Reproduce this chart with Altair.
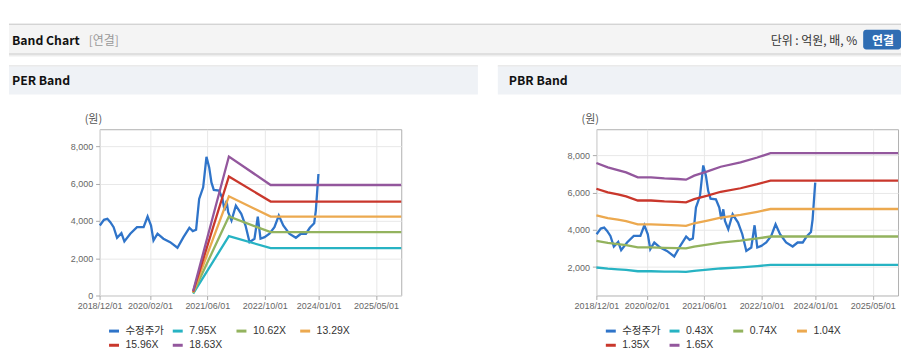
import altair as alt
import pandas as pd

# ---------------- data ----------------
price_dates = ["2018-12-03", "2019-01-07", "2019-02-05", "2019-03-02", "2019-03-30",
               "2019-04-28", "2019-06-04", "2019-06-29", "2019-08-18", "2019-10-14",
               "2019-12-09", "2020-01-12", "2020-02-10", "2020-03-02", "2020-04-05",
               "2020-05-25", "2020-07-21", "2020-09-21", "2020-11-11", "2020-12-31",
               "2021-01-29", "2021-02-26", "2021-03-24", "2021-04-27", "2021-05-25",
               "2021-06-17", "2021-07-06", "2021-07-26", "2021-09-09", "2021-10-08",
               "2021-10-25", "2021-11-11", "2021-11-25", "2021-12-23", "2022-01-29",
               "2022-03-16", "2022-04-21", "2022-05-25", "2022-07-06", "2022-08-03",
               "2022-08-26", "2022-09-29", "2022-11-10", "2022-12-22", "2023-01-28",
               "2023-03-07", "2023-04-27", "2023-06-22", "2023-08-03", "2023-09-15",
               "2023-10-18", "2023-11-24", "2023-12-08", "2023-12-16", "2023-12-30"]
price_vals = [3760, 4064, 4117, 3936, 3668, 3100, 3348, 2904, 3316, 3668,
              3668, 4240, 3760, 2957, 3316, 3048, 2866, 2567, 3134, 3636,
              3455, 3530, 5187, 5807, 7449, 6877, 6075, 5668, 5631, 5187,
              4561, 5096, 4471, 4027, 4829, 4385, 3760, 2866, 3048, 4240,
              3048, 3134, 3316, 3668, 4294, 3760, 3316, 3101, 3316, 3316,
              3636, 3882, 4561, 5273, 6524]

price_name = "수정주가"

per_labels = ["7.95X", "10.62X", "13.29X", "15.96X", "18.63X"]
per_band_dates = ["2021-02-01", "2021-12-01", "2022-11-20", "2025-12-01"]
per_795 = [100, 3187, 2545, 2545]
per_1062 = [135, 4241, 3401, 3401]
per_1329 = [170, 5326, 4241, 4241]
per_1596 = [205, 6396, 5043, 5043]
per_1863 = [240, 7465, 5935, 5935]

pbr_labels = ["0.43X", "0.74X", "1.04X", "1.35X", "1.65X"]
pbr_band_dates = ["2018-12-01", "2019-03-08", "2019-06-01", "2019-08-10", "2019-11-17",
                  "2020-03-08", "2020-06-30", "2020-10-20", "2020-12-30", "2021-03-09",
                  "2021-06-30", "2021-10-20", "2022-04-06", "2022-08-26", "2022-12-16",
                  "2025-12-01"]
pbr_043 = [1975, 1913, 1877, 1843, 1774, 1774, 1760, 1752, 1742, 1798, 1858, 1923, 1983, 2052, 2113, 2113]
pbr_074 = [3398, 3292, 3230, 3172, 3053, 3053, 3029, 3015, 2998, 3094, 3197, 3309, 3412, 3532, 3637, 3637]
pbr_104 = [4776, 4627, 4540, 4458, 4290, 4290, 4257, 4237, 4213, 4348, 4493, 4651, 4795, 4964, 5112, 5112]
pbr_135 = [6199, 6006, 5893, 5787, 5569, 5569, 5526, 5500, 5469, 5644, 5832, 6037, 6225, 6444, 6635, 6635]
pbr_165 = [7577, 7341, 7202, 7074, 6806, 6806, 6753, 6722, 6684, 6899, 7128, 7379, 7608, 7875, 8110, 8110]

x_tick_dates = ["2018-12-01", "2020-02-01", "2021-06-01", "2022-10-01", "2024-01-01", "2025-05-01"]
x_domain_dates = ["2018-12-01", "2025-12-01"]
per_y_ticks = [0, 2000, 4000, 6000, 8000]
pbr_y_ticks = [2000, 4000, 6000, 8000]
per_y_domain = [0, 8930]
pbr_y_domain = [475, 9390]

series_colors = ["#2f74c9", "#27b3c3", "#93b35e", "#eca94f", "#c9372c", "#93579d"]

# ---------------- build tables ----------------
def ms(d):
    return int(pd.Timestamp(d, tz="UTC").value // 10**6)


def long_table(band_dates, band_lists, labels):
    rows = []
    for d, v in zip(price_dates, price_vals):
        rows.append({"date": d, "value": v, "series": price_name})
    for lab, vals in zip(labels, band_lists):
        for d, v in zip(band_dates, vals):
            rows.append({"date": d, "value": v, "series": lab})
    return pd.DataFrame(rows)


per_df = long_table(per_band_dates, [per_795, per_1062, per_1329, per_1596, per_1863], per_labels)
pbr_df = long_table(pbr_band_dates, [pbr_043, pbr_074, pbr_104, pbr_135, pbr_165], pbr_labels)

KFONT = "Noto Sans CJK KR"
LFONT = "Liberation Sans, Noto Sans CJK KR"
one = pd.DataFrame({"k": [0]})


def rect(x, x2, y, y2, color, r=0):
    return alt.Chart(one).mark_rect(color=color, cornerRadius=r).encode(
        x=alt.value(x), x2=alt.value(x2), y=alt.value(y), y2=alt.value(y2))


def label(txt, x, y, size, color, weight="normal", align="left", font=KFONT):
    return alt.Chart(one).mark_text(
        text=txt, align=align, baseline="alphabetic", fontSize=size,
        fontWeight=weight, color=color, font=font).encode(x=alt.value(x), y=alt.value(y))


W, H = 303, 167


def band_chart(df, labels, y_domain, y_ticks):
    domain = [price_name] + labels
    x = alt.X("date:T", title=None,
              scale=alt.Scale(type="utc", domain=[ms(d) for d in x_domain_dates], nice=False),
              axis=alt.Axis(values=[ms(d) for d in x_tick_dates], format="%Y/%m/%d",
                            labelFlush=False, labelOverlap=False, labelFontSize=9,
                            labelFont=LFONT, labelColor="#666", tickSize=4,
                            tickColor="#aaa", labelPadding=2, grid=True,
                            gridColor="#e8e8e8", domain=False))
    y = alt.Y("value:Q", title=None,
              scale=alt.Scale(domain=y_domain, nice=False, zero=False),
              axis=alt.Axis(values=y_ticks, format=",d", labelFontSize=9,
                            labelFont=LFONT, labelColor="#666", tickSize=4,
                            tickColor="#aaa", labelPadding=3, grid=True,
                            gridColor="#e8e8e8", domain=False))
    color = alt.Color("series:N", scale=alt.Scale(domain=domain, range=series_colors),
                      legend=alt.Legend(orient="none", legendX=8, legendY=196,
                                        direction="horizontal", columns=4, gridAlign="all",
                                        symbolType="stroke", symbolSize=100,
                                        symbolStrokeWidth=3, labelFontSize=10.5,
                                        labelFont=LFONT, labelColor="#333",
                                        columnPadding=2, rowPadding=1.5, labelOffset=5,
                                        title=None))
    return alt.Chart(df).mark_line(strokeWidth=2.3, interpolate="linear").encode(
        x=x, y=y, color=color, detail="series:N",
        order=alt.Order("date:T"))


# PER panel (origin of its plot area = page (99,128))
per_layers = [
    rect(-91, 805, -106, -105, "#b9b9b9"),
    rect(-91, 805, -105, -76, "#f4f4f4"),
    rect(-91, 805, -76, -75, "#c6c6c6"),
    rect(-91, 805, -75, -74, "#dcdcdc"),
    rect(-91, 805, -74, -73, "#ededed"),
    rect(-91, 380, -64, -63, "#d6d6d6"),
    rect(-91, 380, -63, -35, "#eff2f6"),
    label("Band Chart", -88, -85, 12.3, "#111", "bold"),
    label("[연결]", -11, -85, 12, "#999"),
    label("단위 : 억원, 배, %", 761, -85, 12, "#333", align="right"),
    rect(767, 805, -100, -80, "#2f6db3", r=3),
    label("연결", 787, -85, 12, "#ffffff", "bold", align="center"),
    label("PER Band", -88, -44, 12.3, "#111", "bold"),
    label("(원)", -15, -6, 11, "#555"),
    band_chart(per_df, per_labels, per_y_domain, per_y_ticks),
]
per_chart = alt.layer(*per_layers).properties(width=W, height=H)

# PBR panel (origin of its plot area = page (598,128))
pbr_layers = [
    rect(-99, 306, -64, -63, "#d6d6d6"),
    rect(-99, 306, -63, -35, "#eff2f6"),
    label("PBR Band", -88, -44, 12.3, "#111", "bold"),
    label("(원)", -15, -6, 11, "#555"),
    band_chart(pbr_df, pbr_labels, pbr_y_domain, pbr_y_ticks),
]
pbr_chart = alt.layer(*pbr_layers).properties(width=W, height=H)

chart = alt.hconcat(per_chart, pbr_chart, spacing=196, bounds="flush").resolve_scale(
    x="independent", y="independent", color="independent"
).resolve_legend(color="independent").properties(
    padding={"top": 14, "left": 0, "right": 0, "bottom": 0},
    background="#ffffff",
).configure_view(stroke="#b0b0b0", strokeWidth=1)

chart.save("out.html", embed_options={"renderer": "svg", "actions": False})
